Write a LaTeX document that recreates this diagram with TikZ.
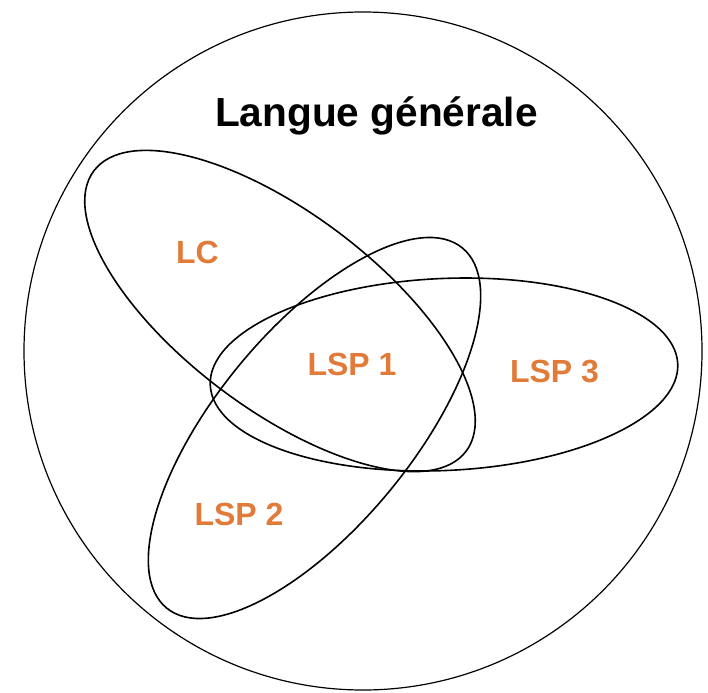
\documentclass[tikz,border=0pt]{standalone}
\usepackage{fontspec}
\setmainfont{Liberation Sans}
\usepackage{tikz}
\definecolor{lsporange}{HTML}{E07B39}
\tikzset{
  % Outer circle (general language)
  outercircle/.style={draw=black, line width=1.2pt},
  % Domain ellipses
  fieldellipse/.style={draw=black, line width=1.6pt},
  % Labels
  maintitle/.style={font=\fontsize{40.6}{48}\selectfont\bfseries, text=black, anchor=base, inner sep=0pt},
  fieldlabel/.style={font=\fontsize{32}{38}\selectfont\bfseries, text=lsporange, anchor=base, inner sep=0pt},
}

\begin{document}
\begin{tikzpicture}[x=1pt, y=-1pt]

  % Canvas
  \fill[white] (0,0) rectangle (708,692);

  % General language
  \draw[outercircle] (363,351) circle [radius=339];
  \node[maintitle] (general) at (376.5,127) {Langue générale};

  % Domain ellipses
  \draw[fieldellipse, shift={(280,311)}, rotate=-37] (0,0) ellipse [x radius=233, y radius=98];
  \draw[fieldellipse, shift={(314.5,428)}, rotate=50.6] (0,0) ellipse [x radius=233, y radius=98];
  \draw[fieldellipse, shift={(444,374.5)}, rotate=2.6] (0,0) ellipse [x radius=234, y radius=96];

  % Labels
  \node[fieldlabel] (lc) at (197.5,263) {LC};
  \node[fieldlabel] (lspone) at (352,375) {LSP 1};
  \node[fieldlabel] (lsptwo) at (239,525) {LSP 2};
  \node[fieldlabel] (lspthree) at (554.5,382) {LSP 3};

\end{tikzpicture}
\end{document}
